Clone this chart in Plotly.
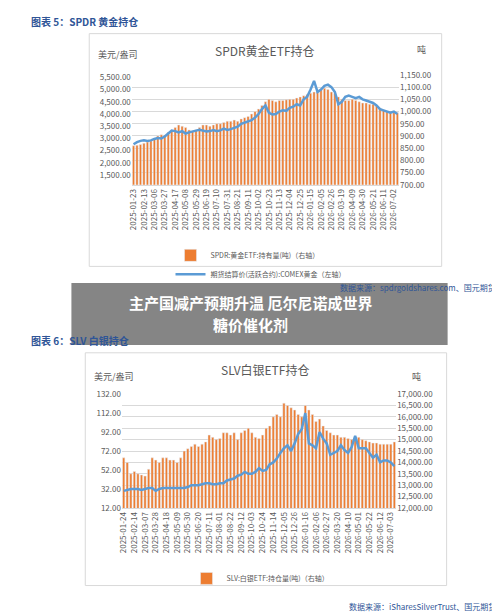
import plotly.graph_objects as go
import pandas as pd

gold_dates = [d.strftime("%Y-%m-%d") for d in pd.date_range("2025-01-23", periods=77, freq="7D")]
gold_hold = [860, 862, 865, 870, 875, 880, 890, 900, 905, 903,
             915, 925, 935, 945, 940,
             935, 925, 920, 925,
             935, 945, 945, 940,
             945, 950, 950, 955,
             960, 960, 965, 960, 970,
             975, 980, 990, 1000,
             1010, 1025, 1040, 1050,
             1045, 1040, 1045, 1045, 1048,
             1050, 1050, 1055, 1060,
             1065, 1070, 1075, 1080,
             1085, 1090, 1095, 1090,
             1080, 1075, 1060, 1050,
             1045, 1045, 1050, 1045, 1040,
             1035, 1035, 1030, 1030,
             1025, 1015, 1005, 1000,
             1000, 1000, 995]
gold_price = [2760, 2850, 2900, 2920, 2900, 2920, 2980, 3020, 3000, 3080,
              3200, 3320, 3300, 3250, 3300,
              3200, 3250, 3300, 3320,
              3350, 3300, 3280, 3300,
              3340, 3300, 3330, 3400,
              3350, 3380, 3420, 3480, 3600,
              3650, 3680, 3750, 3850,
              4000, 4200, 4350, 4050,
              3980, 4000, 4100, 4150, 4130,
              4250, 4300, 4400, 4350,
              4600, 4700, 5000, 5350,
              4900, 5000, 5150, 5200,
              5100, 4900, 4400, 4500,
              4700, 4750, 4700, 4650, 4700,
              4600, 4550, 4500, 4450,
              4350, 4200, 4150, 4100,
              4050, 4100, 4000]

slv_dates = [d.strftime("%Y-%m-%d") for d in pd.date_range("2025-01-24", periods=77, freq="7D")]
slv_hold = [14200, 14000, 13500, 13600, 13500, 13450, 13400, 13700, 14200, 14100,
            14000, 14200, 14200, 14100, 14100,
            14000, 14200, 14500, 14600,
            14700, 14800, 14700, 14800,
            14900, 15200, 15100, 15000,
            15050, 15300, 15300, 15200, 15300,
            15000, 15300, 15400, 15500,
            15300, 15100, 15050, 15200,
            15500, 15600, 16000, 16100, 16000,
            16600, 16500, 16400, 16300,
            16100, 16000, 16500, 16300,
            16100, 15800, 15900, 15600,
            15400, 15300, 15200, 15200,
            15100, 15100, 15050, 15000, 15100,
            15100, 15000, 14950, 14900,
            14850, 14850, 14800, 14800,
            14800, 14800, 14900]
slv_price = [30, 31, 32, 32, 32, 31, 32, 33, 33, 30,
             32, 33, 33, 33, 33,
             33, 33, 33, 34,
             36, 36, 36, 37,
             38, 38, 37, 37,
             38, 38, 41, 42, 43,
             46, 47, 50, 48,
             48, 50, 54, 51,
             52, 58, 60, 64, 70,
             75, 78, 72, 80,
             90, 95, 112, 80,
             78, 75, 92, 85,
             80, 68, 70, 72,
             78, 73, 70, 76, 88,
             75, 75, 75, 70,
             65, 68, 60, 62,
             62, 60, 56]

ORANGE = "#ED7D31"
BLUE = "#5B9BD5"
FONT = "Noto Sans CJK SC"
W, H = 500, 612


def py(p):
    return 1 - p / H


fig = go.Figure()
# bars on the base (right-side) axis, line on the overlaying (left-side) axis so it draws on top
fig.add_bar(x=gold_dates, y=gold_hold, yaxis="y", marker_color=ORANGE,
            name="SPDR:黄金ETF:持有量(吨)（右轴）", legend="legend")
fig.add_scatter(x=gold_dates, y=gold_price, yaxis="y2", mode="lines",
                line=dict(color=BLUE, width=2.5),
                name="期货结算价(活跃合约):COMEX黄金（左轴）", legend="legend")
fig.add_bar(x=slv_dates, y=slv_hold, xaxis="x3", yaxis="y3", marker_color=ORANGE,
            name="SLV:白银ETF:持仓量(吨)（右轴）", legend="legend2")
fig.add_scatter(x=slv_dates, y=slv_price, xaxis="x3", yaxis="y4", mode="lines",
                line=dict(color=BLUE, width=2.5), showlegend=False)

tick = dict(size=8, color="#595959", family=FONT)
grid = "#D9D9D9"
fig.update_layout(
    width=W, height=H, margin=dict(l=0, r=0, t=0, b=0),
    paper_bgcolor="white", plot_bgcolor="white", bargap=0.35,
    font=dict(family=FONT),
    xaxis=dict(domain=[0.24, 0.78], type="category", anchor="y",
               tickvals=gold_dates[::3], tickangle=-90, tickfont=tick, showgrid=False,
               showline=True, linecolor=grid, ticks=""),
    yaxis=dict(domain=[py(174), py(62)], side="right", range=[700, 1150], dtick=50,
               tickformat=",.2f", tickfont=tick, gridcolor=grid, zeroline=False),
    yaxis2=dict(overlaying="y", side="left", range=[1100, 5600], dtick=500,
                tickformat=",.2f", tickfont=tick, showgrid=False, zeroline=False),
    xaxis3=dict(domain=[0.22, 0.774], type="category", anchor="y3",
                tickvals=slv_dates[::3], tickangle=-90, tickfont=tick, showgrid=False,
                showline=True, linecolor=grid, ticks=""),
    yaxis3=dict(domain=[py(503), py(387)], side="right", range=[12000, 17000],
                dtick=500, anchor="x3", tickformat=",.2f", tickfont=tick,
                gridcolor=grid, zeroline=False),
    yaxis4=dict(overlaying="y3", side="left", range=[12, 132], tick0=12, dtick=20,
                anchor="x3", tickformat=",.2f", tickfont=tick, showgrid=False,
                zeroline=False),
    legend=dict(x=0.5, y=py(231), xanchor="center", yanchor="top",
                font=dict(size=7, color="#595959"), tracegroupgap=0,
                itemwidth=30, bgcolor="rgba(0,0,0,0)"),
    legend2=dict(x=0.5, y=py(560), xanchor="center", yanchor="top",
                 font=dict(size=7, color="#595959"), itemwidth=30,
                 bgcolor="rgba(0,0,0,0)"),
)

shapes = [
    dict(type="rect", xref="paper", yref="paper", x0=77 / W, x1=433 / W,
         y0=py(257), y1=py(20), line=dict(color="#D9D9D9", width=1), layer="below"),
    dict(type="rect", xref="paper", yref="paper", x0=73 / W, x1=438 / W,
         y0=py(582), y1=py(345), line=dict(color="#D9D9D9", width=1), layer="below"),
    dict(type="rect", xref="paper", yref="paper", x0=59 / W, x1=439 / W,
         y0=py(337), y1=py(274), fillcolor="rgba(120,120,120,0.9)", line_width=0,
         layer="above"),
]
fig.update_layout(shapes=shapes)


def note(text, x, y, size, color, xanchor="center", bold=False):
    if bold:
        text = "<b>" + text + "</b>"
    fig.add_annotation(text=text, x=x / W, y=py(y), xref="paper", yref="paper",
                       showarrow=False, xanchor=xanchor, yanchor="middle",
                       font=dict(size=size, color=color, family=FONT))


note("图表 5：SPDR 黄金持仓", 16, 8, 10, "#2F5597", "left", True)
note("SPDR黄金ETF持仓", 255, 37, 12, "#595959")
note("美元/盎司", 84, 41, 9, "#595959", "left")
note("吨", 413, 36, 9, "#595959")
note("数据来源：spdrgoldshares.com、国元期货", 490, 278, 8, "#2F5597", "right")
note("图表 6：SLV 白银持仓", 16, 332, 10, "#2F5597", "left", True)
note("SLV白银ETF持仓", 255, 362, 12, "#595959")
note("美元/盎司", 80, 369, 9, "#595959", "left")
note("吨", 408, 369, 9, "#595959")
note("数据来源：iSharesSilverTrust、国元期货", 490, 603, 8, "#2F5597", "right")
note("主产国减产预期升温 厄尔尼诺成世界", 240, 294, 15, "white", bold=True)
note("糖价催化剂", 240, 316, 15, "white", bold=True)

fig.write_html("out.html")
